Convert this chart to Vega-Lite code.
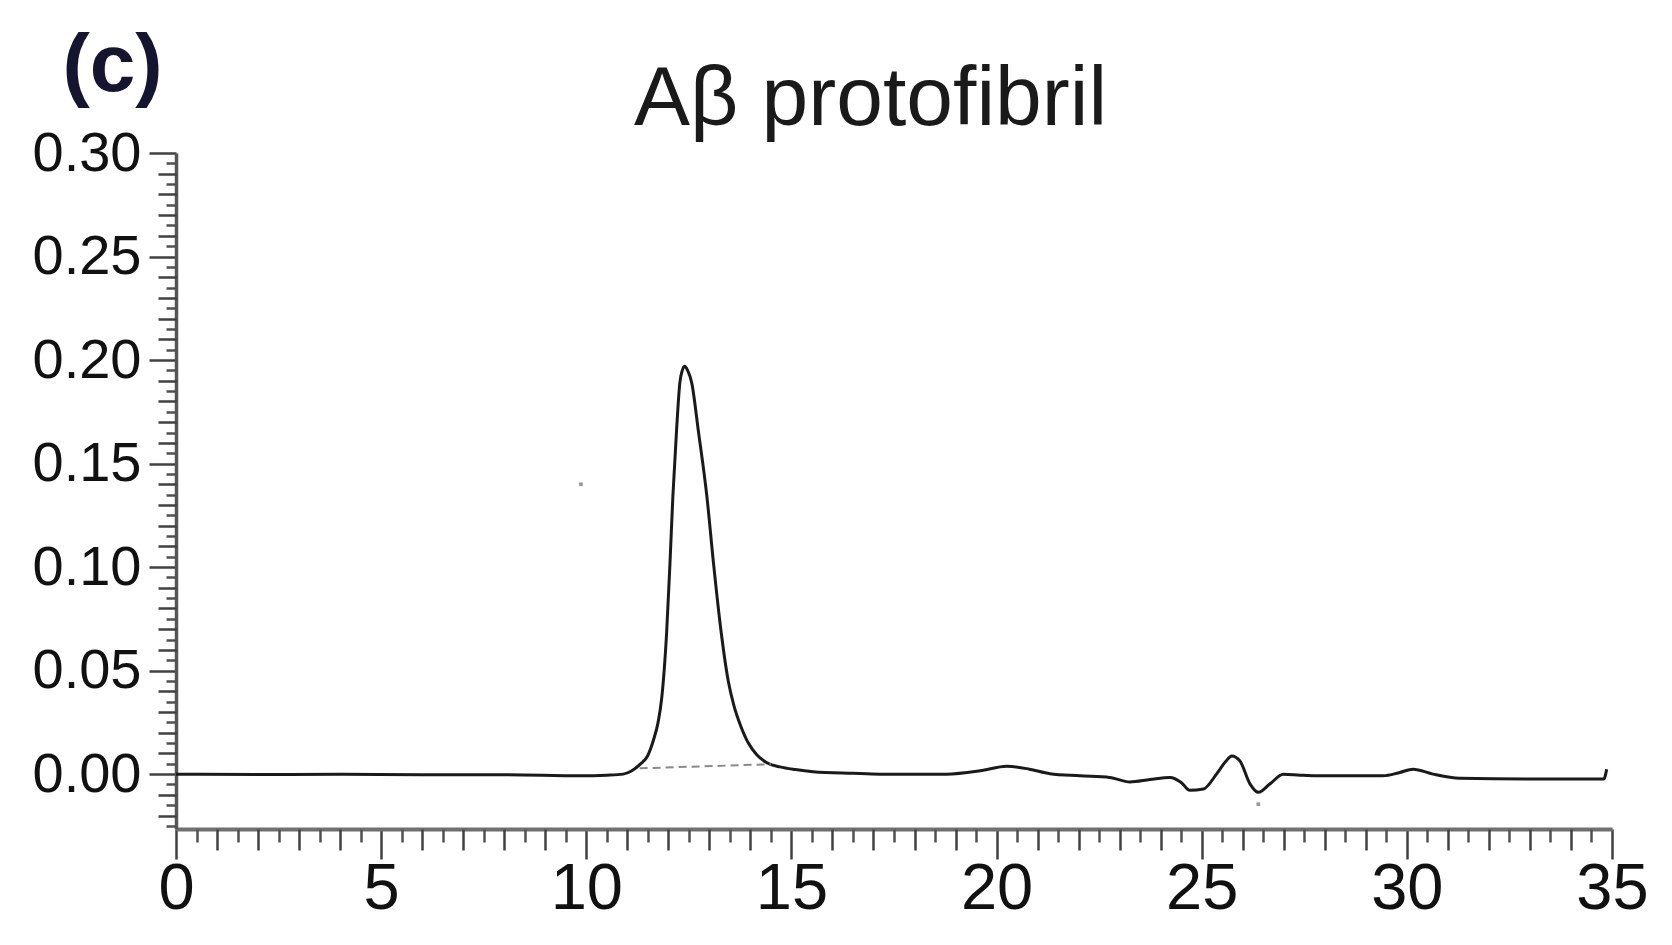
{
  "$schema": "https://vega.github.io/schema/vega-lite/v6.json",
  "width": 1436,
  "height": 676,
  "autosize": {"type": "none"},
  "padding": {"left": 176, "top": 153, "right": 60, "bottom": 116},
  "background": "white",
  "config": {"view": {"stroke": null}},
  "datasets": {
    "trace": [
      {"time": 0, "abs": 0.0},
      {"time": 2, "abs": -0.0002},
      {"time": 4, "abs": 0.0},
      {"time": 6, "abs": -0.0003},
      {"time": 8, "abs": -0.0003},
      {"time": 9.85, "abs": -0.0008},
      {"time": 10.5, "abs": -0.0005},
      {"time": 10.9, "abs": 0.0},
      {"time": 11.1, "abs": 0.0015},
      {"time": 11.31, "abs": 0.0047},
      {"time": 11.5, "abs": 0.009},
      {"time": 11.63, "abs": 0.016},
      {"time": 11.75, "abs": 0.025},
      {"time": 11.84, "abs": 0.037},
      {"time": 11.96, "abs": 0.069},
      {"time": 12.04, "abs": 0.102},
      {"time": 12.11, "abs": 0.134},
      {"time": 12.2, "abs": 0.166},
      {"time": 12.28, "abs": 0.189},
      {"time": 12.34, "abs": 0.195},
      {"time": 12.4, "abs": 0.197},
      {"time": 12.47, "abs": 0.195},
      {"time": 12.57, "abs": 0.189},
      {"time": 12.73, "abs": 0.166},
      {"time": 12.94, "abs": 0.134},
      {"time": 13.1, "abs": 0.102},
      {"time": 13.26, "abs": 0.073},
      {"time": 13.46, "abs": 0.045},
      {"time": 13.6, "abs": 0.033},
      {"time": 13.75, "abs": 0.024},
      {"time": 13.95, "abs": 0.015},
      {"time": 14.15, "abs": 0.0095},
      {"time": 14.4, "abs": 0.0055},
      {"time": 14.72, "abs": 0.0035},
      {"time": 15.1, "abs": 0.0022},
      {"time": 15.53, "abs": 0.0012},
      {"time": 16.5, "abs": 0.0004},
      {"time": 17.16, "abs": 0.0},
      {"time": 18.78, "abs": 0.0},
      {"time": 19.6, "abs": 0.0016},
      {"time": 20.25, "abs": 0.0038},
      {"time": 20.8, "abs": 0.0024},
      {"time": 21.3, "abs": 0.0002},
      {"time": 22.03, "abs": -0.0008},
      {"time": 22.76, "abs": -0.0016},
      {"time": 23.25, "abs": -0.0038},
      {"time": 23.74, "abs": -0.0026},
      {"time": 24.23, "abs": -0.0016},
      {"time": 24.5, "abs": -0.004},
      {"time": 24.71, "abs": -0.0078},
      {"time": 25.04, "abs": -0.0072},
      {"time": 25.36, "abs": 0.0},
      {"time": 25.6, "abs": 0.0065},
      {"time": 25.73, "abs": 0.0088},
      {"time": 25.93, "abs": 0.0064},
      {"time": 26.18, "abs": -0.0048},
      {"time": 26.38, "abs": -0.0088},
      {"time": 26.66, "abs": -0.0048},
      {"time": 26.99, "abs": 0.0},
      {"time": 27.4, "abs": -0.0005},
      {"time": 27.8, "abs": -0.0008},
      {"time": 29.42, "abs": -0.0008},
      {"time": 29.83, "abs": 0.0008},
      {"time": 30.15, "abs": 0.0024},
      {"time": 30.64, "abs": 0.0},
      {"time": 31.29, "abs": -0.002},
      {"time": 33.07, "abs": -0.0024},
      {"time": 34.8, "abs": -0.0024},
      {"time": 34.87, "abs": 0.0024}
    ],
    "base": [
      {"time": 11.3, "abs": 0.0028},
      {"time": 14.5, "abs": 0.0048}
    ],
    "specks": [
      {"time": 9.87, "abs": 0.14},
      {"time": 26.38, "abs": -0.0145}
    ]
  },
  "resolve": {"axis": {"x": "independent", "y": "independent"}},
  "layer": [
    {
      "data": {"name": "trace"},
      "mark": {"type": "line", "color": "#1a1a1a", "strokeWidth": 3, "interpolate": "monotone"},
      "encoding": {
        "x": {
          "field": "time", "type": "quantitative",
          "scale": {"domain": [0, 35], "nice": false, "zero": false},
          "axis": {
            "orient": "bottom",
            "values": [0, 5, 10, 15, 20, 25, 30, 35],
            "format": "d",
            "labelOverlap": false,
            "labelFlush": false,
            "labelBound": false,
            "grid": false,
            "domainColor": "#707070",
            "domainWidth": 4,
            "tickColor": "#404040",
            "tickWidth": 2.5,
            "tickSize": 30,
            "labelFont": "Liberation Sans, Arial",
            "labelFontSize": 65,
            "labelColor": "#111111",
            "labelPadding": -2,
            "title": "Aβ protofibril",
            "titleFont": "Liberation Sans, Arial",
            "titleFontSize": 84,
            "titleFontWeight": "normal",
            "titleColor": "#1a1a1a",
            "titleAlign": "center",
            "titleBaseline": "alphabetic",
            "titleX": 694,
            "titleY": -705
          }
        },
        "y": {
          "field": "abs", "type": "quantitative",
          "scale": {"domain": [-0.0265, 0.3], "nice": false, "zero": false},
          "axis": {
            "orient": "left",
            "values": [0, 0.05, 0.1, 0.15, 0.2, 0.25, 0.3],
            "format": ".2f",
            "labelOverlap": false,
            "labelFlush": false,
            "labelBound": false,
            "grid": false,
            "domainColor": "#555555",
            "domainWidth": 3.5,
            "tickColor": "#404040",
            "tickWidth": 2.5,
            "tickSize": 27,
            "labelFont": "Liberation Sans, Arial",
            "labelFontSize": 56,
            "labelColor": "#111111",
            "labelPadding": 8,
            "title": "(c)",
            "titleAngle": 0,
            "titleFont": "Liberation Sans, Arial",
            "titleFontSize": 82,
            "titleFontWeight": "bold",
            "titleColor": "#151530",
            "titleAlign": "center",
            "titleBaseline": "alphabetic",
            "titleX": -64,
            "titleY": -63
          }
        }
      }
    },
    {
      "data": {"name": "base"},
      "mark": {"type": "line", "color": "#8a8a8a", "strokeWidth": 2, "strokeDash": [8, 5]},
      "encoding": {
        "x": {
          "field": "time", "type": "quantitative",
          "axis": {
            "orient": "bottom",
            "values": [1, 2, 3, 4, 6, 7, 8, 9, 11, 12, 13, 14, 16, 17, 18, 19, 21, 22, 23, 24, 26, 27, 28, 29, 31, 32, 33, 34],
            "labels": false, "domain": false, "grid": false, "title": null,
            "tickColor": "#404040", "tickWidth": 2.5, "tickSize": 21
          }
        },
        "y": {
          "field": "abs", "type": "quantitative",
          "axis": {
            "orient": "left",
            "values": [-0.02, -0.01, 0.01, 0.02, 0.03, 0.04, 0.06, 0.07, 0.08, 0.09, 0.11, 0.12, 0.13, 0.14, 0.16, 0.17, 0.18, 0.19, 0.21, 0.22, 0.23, 0.24, 0.26, 0.27, 0.28, 0.29],
            "labels": false, "domain": false, "grid": false, "title": null,
            "tickColor": "#404040", "tickWidth": 2.5, "tickSize": 18
          }
        }
      }
    },
    {
      "data": {"name": "specks"},
      "mark": {"type": "point", "shape": "square", "filled": true, "color": "#9a9a9a", "size": 14, "opacity": 1},
      "encoding": {
        "x": {
          "field": "time", "type": "quantitative",
          "axis": {
            "orient": "bottom",
            "values": [0.5, 1.5, 2.5, 3.5, 4.5, 5.5, 6.5, 7.5, 8.5, 9.5, 10.5, 11.5, 12.5, 13.5, 14.5, 15.5, 16.5, 17.5, 18.5, 19.5, 20.5, 21.5, 22.5, 23.5, 24.5, 25.5, 26.5, 27.5, 28.5, 29.5, 30.5, 31.5, 32.5, 33.5, 34.5],
            "labels": false, "domain": false, "grid": false, "title": null,
            "tickColor": "#505050", "tickWidth": 2.5, "tickSize": 13
          }
        },
        "y": {
          "field": "abs", "type": "quantitative",
          "axis": {
            "orient": "left",
            "values": [-0.025, -0.015, -0.005, 0.005, 0.015, 0.025, 0.035, 0.045, 0.055, 0.065, 0.075, 0.085, 0.095, 0.105, 0.115, 0.125, 0.135, 0.145, 0.155, 0.165, 0.175, 0.185, 0.195, 0.205, 0.215, 0.225, 0.235, 0.245, 0.255, 0.265, 0.275, 0.285, 0.295],
            "labels": false, "domain": false, "grid": false, "title": null,
            "tickColor": "#505050", "tickWidth": 2.5, "tickSize": 10
          }
        }
      }
    }
  ]
}
